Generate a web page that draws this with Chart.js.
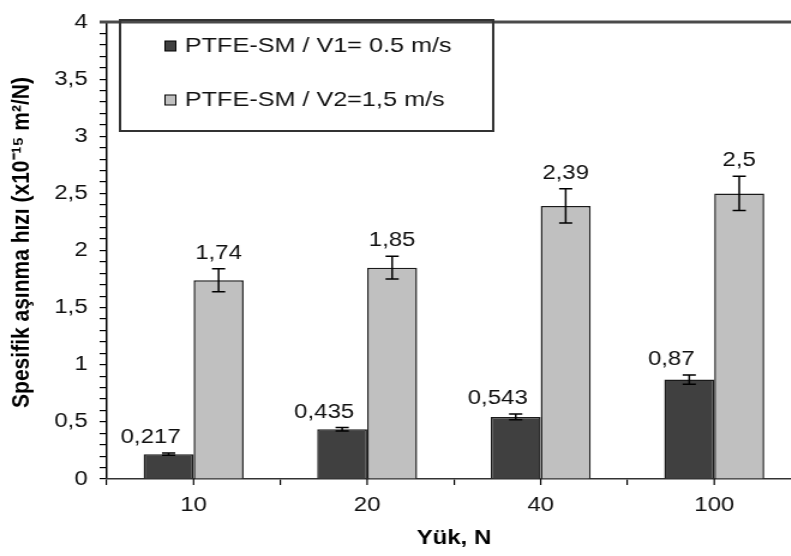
<!DOCTYPE html>
<html>
<head>
<meta charset="utf-8">
<script src="https://cdn.jsdelivr.net/npm/chart.js@4.4.0/dist/chart.umd.min.js"></script>
<style>
  html, body { margin: 0; padding: 0; background: #fff; overflow: hidden; width: 791px; height: 556px; }
  /* the source picture is stretched sideways, so the canvas is too */
  #wear-chart { display: block; transform: scaleX(1.2); transform-origin: 0 0; }
</style>
</head>
<body>
<canvas id="wear-chart" width="690" height="556"></canvas>
<script>
// data
var loads = ["10", "20", "40", "100"];
var wearV1 = [0.217, 0.435, 0.543, 0.87];
var wearV2 = [1.74, 1.85, 2.39, 2.5];
var errV1 = [0.01, 0.015, 0.025, 0.04];
var errV2 = [0.1, 0.1, 0.15, 0.15];
var yLabelTicks = [0, 0.5, 1, 1.5, 2, 2.5, 3, 3.5, 4];

var FONT = "'Liberation Sans', Arial, sans-serif";

function fmt(v) {
  return String(v).replace(".", ",");
}

// error bars + value labels
var errorBars = {
  id: "errorBars",
  afterDatasetsDraw: function (chart) {
    var ctx = chart.ctx;
    var y = chart.scales.y;
    chart.data.datasets.forEach(function (ds, i) {
      var meta = chart.getDatasetMeta(i);
      meta.data.forEach(function (bar, j) {
        var v = ds.data[j];
        var e = ds.errors[j];
        var yTop = y.getPixelForValue(v + e);
        var yBot = y.getPixelForValue(v - e);
        ctx.save();
        ctx.strokeStyle = "#000";
        ctx.lineWidth = 1.5;
        ctx.beginPath();
        ctx.moveTo(bar.x, yTop); ctx.lineTo(bar.x, yBot);
        ctx.moveTo(bar.x - 5.5, yTop); ctx.lineTo(bar.x + 5.5, yTop);
        ctx.moveTo(bar.x - 5.5, yBot); ctx.lineTo(bar.x + 5.5, yBot);
        ctx.stroke();
        ctx.fillStyle = "#111";
        ctx.font = "20px " + FONT;
        ctx.textAlign = "center";
        ctx.textBaseline = "alphabetic";
        ctx.fillText(fmt(v), bar.x + ds.labelShift, yTop - 10);
        ctx.restore();
      });
    });
  }
};

// top frame line, tick marks under each category, boxed legend, y title
var frame = {
  id: "frame",
  afterDraw: function (chart) {
    var ctx = chart.ctx;
    var area = chart.chartArea;
    var x = chart.scales.x;
    ctx.save();
    ctx.strokeStyle = "#4a4a4a";
    ctx.lineWidth = 3;
    ctx.beginPath();
    ctx.moveTo(area.left - 6, area.top);
    ctx.lineTo(area.right, area.top);
    ctx.stroke();

    ctx.strokeStyle = "#000";
    ctx.lineWidth = 1.2;
    ctx.beginPath();
    loads.forEach(function (l, i) {
      var px = x.getPixelForValue(i);
      ctx.moveTo(px, area.bottom);
      ctx.lineTo(px, area.bottom + 6);
    });
    ctx.stroke();

    // legend
    ctx.strokeStyle = "#333";
    ctx.lineWidth = 2;
    ctx.strokeRect(100, 20, 311, 111);
    ctx.font = "21px " + FONT;
    ctx.textBaseline = "middle";
    ctx.textAlign = "left";
    var rows = [46, 100];
    chart.data.datasets.forEach(function (ds, i) {
      ctx.fillStyle = ds.backgroundColor;
      ctx.fillRect(137.5, rows[i] - 5, 9, 10);
      ctx.lineWidth = 1;
      ctx.strokeStyle = "#000";
      ctx.strokeRect(137.5, rows[i] - 5, 9, 10);
      ctx.fillStyle = "#111";
      ctx.fillText(ds.label, 154, rows[i]);
    });

    // y axis title, sitting a bit above the middle like the source
    ctx.translate(18, area.top + (area.bottom - area.top) / 2 - 8);
    ctx.rotate(-Math.PI / 2);
    ctx.font = "bold 21px " + FONT;
    ctx.fillStyle = "#000";
    ctx.textAlign = "center";
    ctx.textBaseline = "middle";
    ctx.fillText("Spesifik aşınma hızı (x10\u207B\u00B9\u2075 m\u00B2/N)", 0, 0);
    ctx.restore();
  }
};

var ctx1 = document.getElementById("wear-chart").getContext("2d");

var chart1 = new Chart(ctx1, {
  type: "bar",
  data: {
    labels: loads,
    datasets: [
      {
        label: "PTFE-SM / V1= 0.5 m/s",
        data: wearV1,
        errors: errV1,
        labelShift: -15,
        backgroundColor: "#404040",
        borderColor: "#1a1a1a",
        borderWidth: 1.5,
        borderSkipped: "bottom",
        categoryPercentage: 0.576,
        barPercentage: 1,
      },
      {
        label: "PTFE-SM / V2=1,5 m/s",
        data: wearV2,
        errors: errV2,
        labelShift: 0,
        backgroundColor: "#c0c0c0",
        borderColor: "#1a1a1a",
        borderWidth: 1.5,
        borderSkipped: "bottom",
        categoryPercentage: 0.576,
        barPercentage: 1,
      },
    ],
  },
  options: {
    responsive: false,
    animation: false,
    devicePixelRatio: 1,
    layout: {
      padding: { top: 15, right: 22.5, left: 0, bottom: 0 },
    },
    plugins: {
      legend: { display: false },
      tooltip: { enabled: false },
    },
    scales: {
      y: {
        min: 0,
        max: 4,
        afterFit: function (s) { s.width = 89; },
        border: { display: true, color: "#000", width: 1.5 },
        grid: {
          display: true,
          drawOnChartArea: false,
          drawTicks: true,
          tickLength: 6,
          tickColor: "#000",
          lineWidth: 1.2,
        },
        ticks: {
          stepSize: 0.1,
          autoSkip: false,
          padding: 10,
          color: "#111",
          font: { size: 20, family: FONT },
          callback: function (v) {
            for (var k = 0; k < yLabelTicks.length; k++) {
              if (Math.abs(v - yLabelTicks[k]) < 1e-6) return fmt(yLabelTicks[k]);
            }
            return "";
          },
        },
        title: { display: false },
      },
      x: {
        afterFit: function (s) { s.height = 77; },
        border: { display: true, color: "#333", width: 1.5 },
        grid: {
          display: true,
          offset: true,
          drawOnChartArea: false,
          drawTicks: true,
          tickLength: 6,
          tickColor: "#000",
          lineWidth: 1.2,
        },
        ticks: {
          padding: 8,
          color: "#111",
          font: { size: 20, family: FONT },
        },
        title: {
          display: true,
          text: "Yük, N",
          color: "#000",
          font: { size: 20, weight: "bold", family: FONT },
          padding: { top: 0, bottom: 6 },
        },
      },
    },
  },
  plugins: [errorBars, frame],
});
</script>
</body>
</html>
